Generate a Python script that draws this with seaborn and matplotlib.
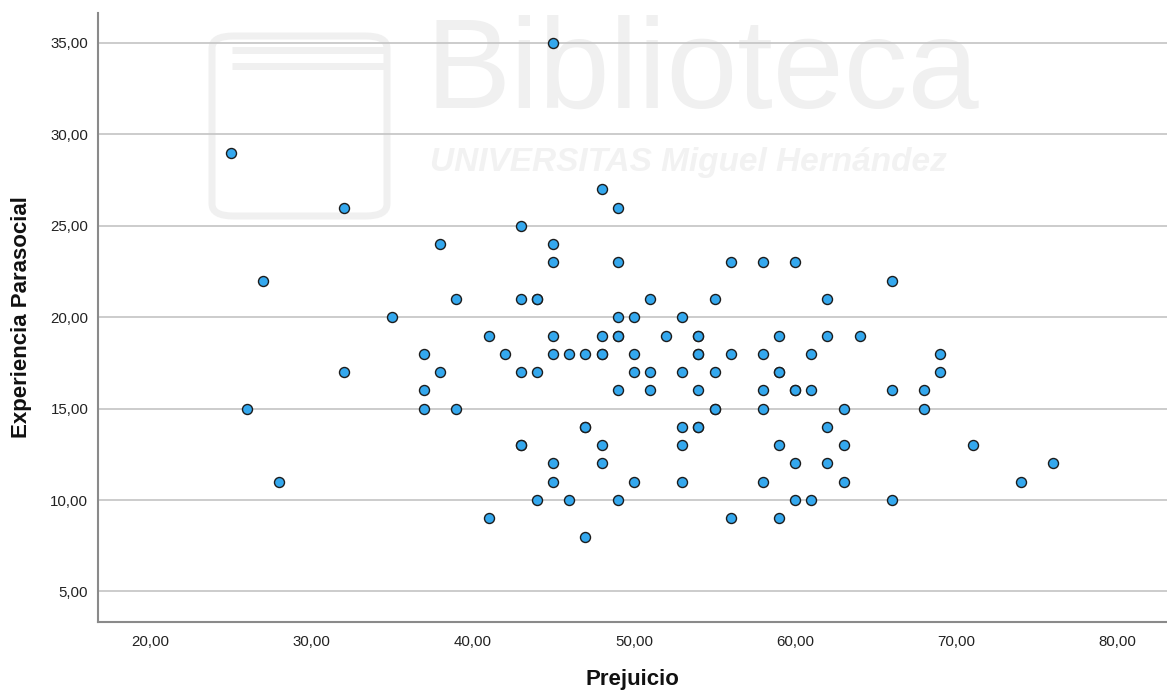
import matplotlib
matplotlib.use("Agg")
import matplotlib.pyplot as plt
import seaborn as sns
import pandas as pd
from matplotlib.ticker import FuncFormatter
from matplotlib.patches import FancyBboxPatch

# Data (Prejuicio, Experiencia Parasocial)
prejuicio = [25, 26, 27, 28, 32, 32, 35, 37, 37, 37, 38, 38, 39, 39, 41, 41, 42,
             43, 43, 43, 43, 43, 44, 44, 44, 44, 45, 45, 45, 45, 45, 45, 45,
             46, 46, 47, 47, 47, 47, 48, 48, 48, 48, 48, 48,
             49, 49, 49, 49, 49, 49, 49, 50, 50, 50, 50, 51, 51, 51, 52,
             53, 53, 53, 53, 53, 54, 54, 54, 54, 54, 54, 54, 55, 55, 55, 55,
             56, 56, 56, 58, 58, 58, 58, 58, 59, 59, 59, 59, 59,
             60, 60, 60, 60, 60, 61, 61, 61, 62, 62, 62, 62, 63, 63, 63, 64,
             66, 66, 66, 68, 68, 69, 69, 71, 74, 76]
experiencia = [29, 15, 22, 11, 26, 17, 20, 18, 16, 15, 24, 17, 21, 15, 19, 9, 18,
               25, 21, 17, 13, 13, 21, 21, 17, 10, 35, 24, 23, 19, 18, 12, 11,
               18, 10, 18, 14, 14, 8, 27, 19, 18, 18, 13, 12,
               26, 23, 20, 19, 19, 16, 10, 20, 18, 17, 11, 21, 17, 16, 19,
               20, 17, 14, 13, 11, 19, 19, 18, 18, 16, 14, 14, 21, 17, 15, 15,
               23, 18, 9, 23, 18, 16, 15, 11, 19, 17, 17, 13, 9,
               23, 16, 16, 12, 10, 18, 16, 10, 21, 19, 14, 12, 15, 13, 11, 19,
               22, 16, 10, 16, 15, 18, 17, 13, 11, 12]

x_ticks = [20, 30, 40, 50, 60, 70, 80]
y_ticks = [5, 10, 15, 20, 25, 30, 35]
x_label = "Prejuicio"
y_label = "Experiencia Parasocial"

df = pd.DataFrame({x_label: prejuicio, y_label: experiencia})

sns.set_theme(style="white")
plt.rcParams['font.family'] = ['Liberation Sans', 'DejaVu Sans']

fig = plt.figure(figsize=(11.67, 6.95), dpi=100)
ax = fig.add_axes([98 / 1167, 73 / 695, 1 - 98 / 1167, (622 - 13) / 695])

# faint watermark (background)
wm = "#f0f0f0"
ax.text(0.565, 0.844, "Biblioteca", transform=ax.transAxes, ha="center", va="baseline",
        fontsize=92, color=wm, zorder=0)
ax.text(0.552, 0.754, "UNIVERSITAS Miguel Hernández", transform=ax.transAxes,
        ha="center", va="center", fontsize=24, color="#f2f2f2", style="italic",
        fontweight="bold", zorder=0)
logo = FancyBboxPatch(((212 - 98) / 1069, (622 - 216) / 609), 175 / 1069, 180 / 609,
                      boxstyle="round,pad=0,rounding_size=0.02", transform=ax.transAxes,
                      fill=False, edgecolor=wm, linewidth=5, zorder=0)
ax.add_patch(logo)
for yy in (50, 66):
    ax.plot([(232 - 98) / 1069, (385 - 98) / 1069], [(622 - yy) / 609] * 2,
            transform=ax.transAxes, color=wm, linewidth=5, zorder=0,
            solid_capstyle="butt")

sns.scatterplot(data=df, x=x_label, y=y_label, ax=ax, s=52, color="#34a8ee",
                edgecolor="#1c1c1c", linewidth=1.0, zorder=3, legend=False)

ax.set_xlim(16.78, 83.05)
ax.set_ylim(3.33, 36.64)
ax.set_xticks(x_ticks)
ax.set_yticks(y_ticks)
fmt = FuncFormatter(lambda v, p: f"{v:.2f}".replace(".", ","))
ax.xaxis.set_major_formatter(fmt)
ax.yaxis.set_major_formatter(fmt)

ax.yaxis.grid(True, color="#c8c8c8", linewidth=1.3, zorder=1)
ax.xaxis.grid(False)
ax.set_axisbelow(True)

for side in ["top", "right"]:
    ax.spines[side].set_visible(False)
for side in ["left", "bottom"]:
    ax.spines[side].set_color("#8a8a8a")
    ax.spines[side].set_linewidth(1.5)

ax.tick_params(axis="both", length=0, labelsize=10.8, colors="#222222")
ax.tick_params(axis="x", pad=9)
ax.tick_params(axis="y", pad=7)

ax.set_xlabel(x_label, fontsize=16, fontweight="bold", color="#111111", labelpad=15)
ax.set_ylabel(y_label, fontsize=16, fontweight="bold", color="#111111", labelpad=13)

fig.savefig("out.png", dpi=100, facecolor="white")
